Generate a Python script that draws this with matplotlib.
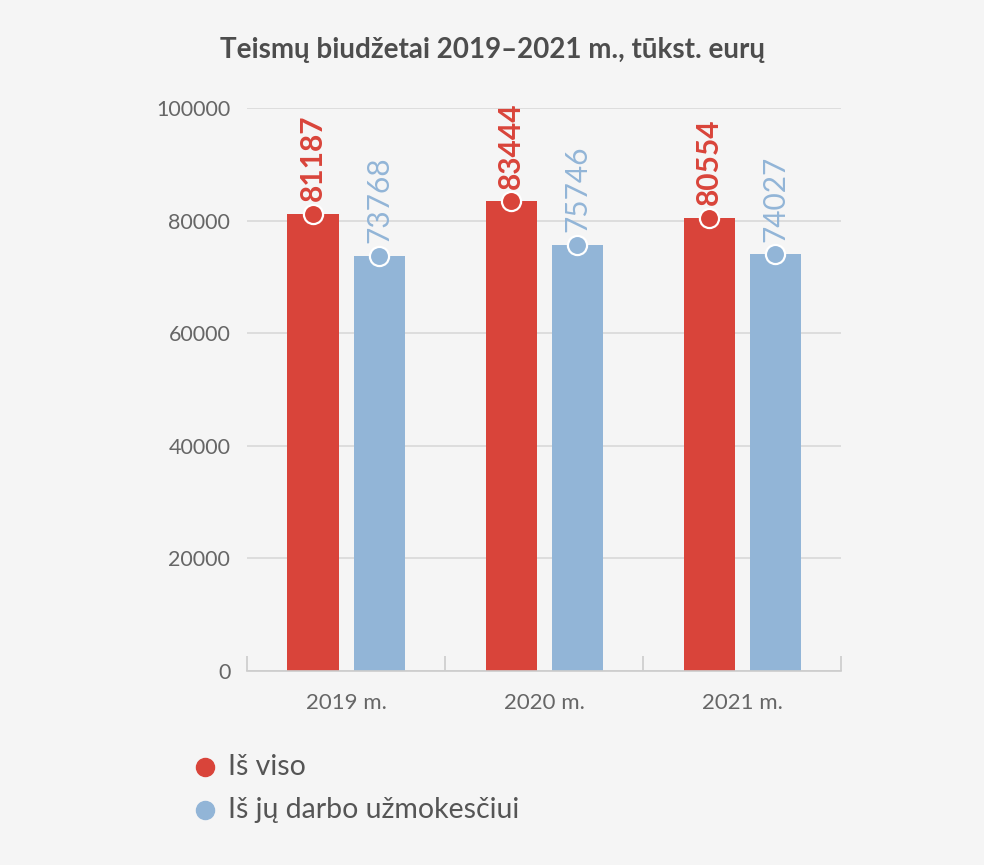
import numpy as np
import matplotlib.pyplot as plt

plt.rcParams['font.family'] = ['Lato', 'DejaVu Sans']

years = ['2019 m.', '2020 m.', '2021 m.']
total = [81187, 83444, 80554]
salaries = [73768, 75746, 74027]
series_names = ['Iš viso', 'Iš jų darbo užmokesčiui']

RED = '#d9443a'
BLUE = '#92b5d7'
BG = '#f5f5f5'
GRAY = '#666666'

fig = plt.figure(figsize=(9.84, 8.65), dpi=100, facecolor=BG)
ax = fig.add_axes([0.251, 0.2243, 0.604, 0.6508], facecolor=BG)

x = np.arange(len(years))
off = 0.167
w = 0.258
for vals, col, dx, bold in [(total, RED, -off, True), (salaries, BLUE, off, False)]:
    ax.bar(x + dx, vals, width=w, color=col, zorder=2)
    ax.scatter(x + dx, vals, s=190, color=col, edgecolor='white', linewidth=1.6, zorder=3)
    for xi, v in zip(x + dx, vals):
        ax.annotate(str(v), (xi, v), xytext=(0, 9), textcoords='offset points',
                    rotation=90, ha='center', va='bottom', color=col,
                    fontsize=21.5, fontweight='bold' if bold else 'normal', zorder=4)

ax.set_xlim(-0.5, 2.5)
ax.set_ylim(0, 100000)
ax.set_yticks(np.arange(0, 100001, 20000))
ax.grid(axis='y', color='#d9d9d9', linewidth=1.2, zorder=0)
ax.set_axisbelow(True)
for s in ['top', 'right', 'left']:
    ax.spines[s].set_visible(False)
ax.spines['bottom'].set_color('#cccccc')
ax.spines['bottom'].set_linewidth(1.2)

ax.set_xticks(x)
ax.set_xticklabels(years)
ax.set_xticks([-0.5, 0.5, 1.5, 2.5], minor=True)
ax.tick_params(axis='x', which='major', length=0, pad=16, labelsize=16, labelcolor=GRAY)
ax.tick_params(axis='x', which='minor', direction='in', length=11, color='#cccccc', width=1.2)
ax.tick_params(axis='y', length=0, pad=12, labelsize=15.5, labelcolor=GRAY)

fig.text(0.5, 0.942, 'Teismų biudžetai 2019–2021 m., tūkst. eurų', ha='center', va='center',
         fontsize=20, fontweight='bold', color='#4d4d4d')

# legend drawn as markers and text in figure coords
for i, (name, col) in enumerate(zip(series_names, [RED, BLUE])):
    y = 1 - (767 + 43 * i) / 865
    fig.lines.append(plt.Line2D([205 / 984], [y], marker='o', markersize=13, color=col,
                                transform=fig.transFigure))
    fig.text(228 / 984, y, name, ha='left', va='center', fontsize=20.5, color='#555555')

fig.savefig('out.png', dpi=100, facecolor=BG)
